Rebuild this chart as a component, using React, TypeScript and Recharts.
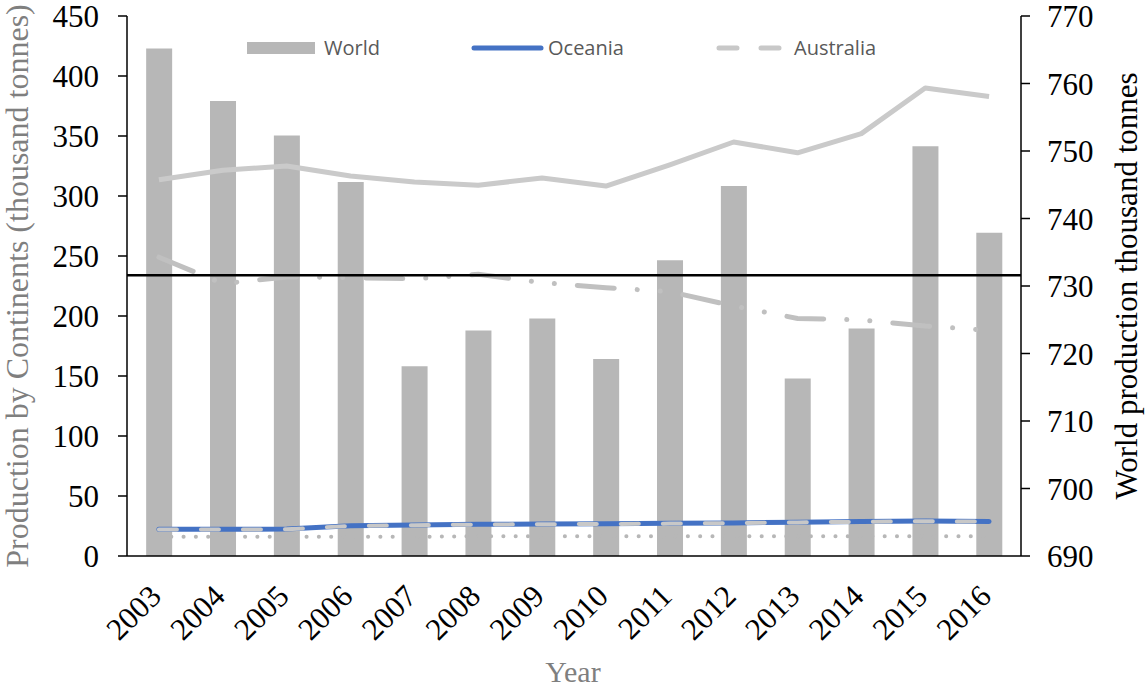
import React from "react";
import { ComposedChart, Bar, Line, XAxis, YAxis, ReferenceLine, Legend } from "recharts";

const years = ["2003", "2004", "2005", "2006", "2007", "2008", "2009", "2010", "2011", "2012", "2013", "2014", "2015", "2016"];
// World on the right axis (thousand tonnes)
const world = [765.2, 757.4, 752.3, 745.4, 718.1, 723.4, 725.2, 719.2, 733.8, 744.8, 716.3, 723.7, 750.7, 737.9];
// continents / countries on the left axis
const oceania = [22.2, 22.2, 22.5, 25.3, 25.8, 26.4, 26.7, 26.9, 27.2, 27.6, 28.2, 28.7, 29.2, 28.8];
const australia = [22.0, 22.0, 22.3, 25.1, 25.6, 26.2, 26.5, 26.7, 27.0, 27.4, 28.0, 28.5, 29.0, 28.6];
const seriesSolid = [313.6, 321.4, 325, 316.7, 311.7, 309, 315, 308.3, 326, 345, 336, 352, 390, 383];
const seriesDashDot = [249, 227, 232.5, 232, 231, 234.7, 227.8, 223.6, 220.3, 208.3, 198, 196.7, 191.7, 188];
const seriesDotted = [16, 16, 16, 16, 16, 16.5, 16.5, 16.5, 16.5, 16.5, 16.5, 16.5, 16.5, 16.5];
const referenceLevel = 234;

const leftTicks = [0, 50, 100, 150, 200, 250, 300, 350, 400, 450];
const rightTicks = [690, 700, 710, 720, 730, 740, 750, 760, 770];

const data = years.map((year, i) => ({
  year,
  world: world[i],
  oceania: oceania[i],
  australia: australia[i],
  solid: seriesSolid[i],
  dashDot: seriesDashDot[i],
  dotted: seriesDotted[i],
}));

const SERIF = "'Liberation Serif', 'Times New Roman', serif";
const BAR_GREY = "#b7b7b7";

const YearTick = (props: any) => {
  const { x, y, payload } = props;
  const ax = x + 4;
  const ay = y + 42;
  return (
    <text x={ax} y={ay} transform={`rotate(-45 ${ax} ${ay})`} textAnchor="end"
      fontFamily={SERIF} fontSize={31} fill="#000">
      {payload.value}
    </text>
  );
};

const LegendContent = () => (
  <svg width={1146} height={70} style={{ display: "block" }}>
    <g fontFamily="'Open Sans', sans-serif" fontSize={20} fill="#595959">
      <rect x={247} y={42} width={68} height={12} fill={BAR_GREY} />
      <text x={324} y={47} dominantBaseline="central">World</text>
      <line x1={474} x2={541} y1={48} y2={48} stroke="#4472c4" strokeWidth={5} strokeLinecap="round" />
      <text x={548} y={47} dominantBaseline="central">Oceania</text>
      <line x1={719} x2={779} y1={48} y2={48} stroke="#c8c8c8" strokeWidth={5}
        strokeLinecap="round" strokeDasharray="18 24" />
      <text x={794} y={47} dominantBaseline="central">Australia</text>
    </g>
  </svg>
);

export default function App() {
  return (
    <div style={{ position: "absolute", left: 0, top: 0, background: "#fff" }}>
      <ComposedChart width={1146} height={688} data={data}
        margin={{ top: 16, right: 25, bottom: 32, left: 27 }} barCategoryGap="30%">
        <XAxis dataKey="year" tickLine={false} tickSize={0} tickMargin={0} height={100}
          axisLine={{ stroke: "#000", strokeWidth: 1.5 }} tick={<YearTick />} interval={0}
          label={() => (
            <text x={573} y={682} textAnchor="middle" fontFamily={SERIF} fontSize={30} fill="#7f7f7f">Year</text>
          )} />
        <YAxis yAxisId="left" orientation="left" width={100} domain={[0, 450]} ticks={leftTicks}
          tickSize={9} tickMargin={19} interval={0}
          axisLine={{ stroke: "#000", strokeWidth: 1.5 }} tickLine={{ stroke: "#000", strokeWidth: 1.5 }}
          tick={{ fontSize: 31, fontFamily: SERIF, fill: "#000" }}
          label={() => (
            <text x={28} y={286} transform="rotate(-90 28 286)" textAnchor="middle"
              fontFamily={SERIF} fontSize={32} fill="#7f7f7f">
              Production by Continents (thousand tonnes)
            </text>
          )} />
        <YAxis yAxisId="right" orientation="right" width={100} domain={[690, 770]} ticks={rightTicks}
          tickSize={9} tickMargin={17} interval={0}
          axisLine={{ stroke: "#000", strokeWidth: 1.5 }} tickLine={{ stroke: "#000", strokeWidth: 1.5 }}
          tick={{ fontSize: 31, fontFamily: SERIF, fill: "#000" }}
          label={() => (
            <text x={1137} y={286} transform="rotate(-90 1137 286)" textAnchor="middle"
              fontFamily={SERIF} fontSize={31} fill="#000">
              World production thousand tonnes
            </text>
          )} />
        <Legend verticalAlign="middle" align="center" layout="horizontal" content={<LegendContent />}
          wrapperStyle={{ position: "absolute", top: 0, left: 0, width: 1146, height: 70 }} />
        <Line yAxisId="left" dataKey="dotted" name="Other" stroke={BAR_GREY} strokeWidth={4}
          strokeDasharray="0.1 12.2" strokeLinecap="round" dot={false} legendType="none"
          isAnimationActive={false} />
        <Bar yAxisId="right" dataKey="world" name="World" fill={BAR_GREY} isAnimationActive={false} />
        <Line yAxisId="left" dataKey="solid" name="Series A" stroke="#cacaca" strokeWidth={5}
          strokeLinejoin="round" dot={false} legendType="none" isAnimationActive={false} />
        <Line yAxisId="left" dataKey="dashDot" name="Series B" stroke="#c0c0c0" strokeWidth={5}
          strokeDasharray="37 23 0.1 23 0.1 23" strokeLinecap="round" dot={false} legendType="none"
          isAnimationActive={false} />
        <Line yAxisId="left" dataKey="oceania" name="Oceania" stroke="#4472c4" strokeWidth={5}
          strokeLinecap="round" dot={false} isAnimationActive={false} />
        <Line yAxisId="left" dataKey="australia" name="Australia" stroke="#c8c8c8" strokeWidth={4}
          strokeDasharray="18 24" strokeLinecap="round" dot={false} isAnimationActive={false} />
        <ReferenceLine yAxisId="left" y={referenceLevel} stroke="#000" strokeWidth={2.5} />
      </ComposedChart>
    </div>
  );
}
